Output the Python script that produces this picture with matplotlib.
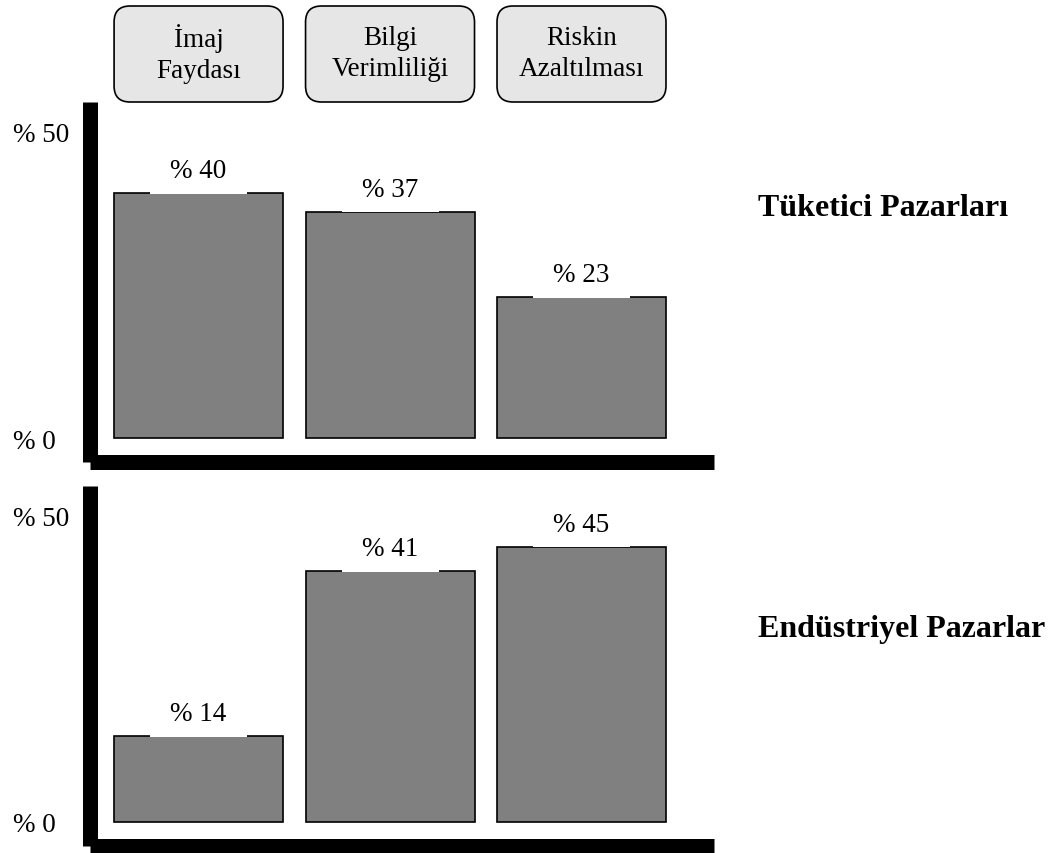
import matplotlib
matplotlib.use("Agg")
import matplotlib.pyplot as plt
from matplotlib.patches import FancyBboxPatch, Rectangle

plt.rcParams['font.family'] = ['Liberation Serif', 'DejaVu Serif']

# Data
categories = ["İmaj\nFaydası", "Bilgi\nVerimliliği", "Riskin\nAzaltılması"]
consumer = [40, 37, 23]
industrial = [14, 41, 45]
panel_titles = ["Tüketici Pazarları", "Endüstriyel Pazarlar"]
tick_values = [0, 50]
tick_labels = ["% 0", "% 50"]

# Figure geometry (pixels)
W, H = 1055, 854
fig = plt.figure(figsize=(W / 100, H / 100), dpi=100)


def px_axes(left, top, right, bottom):
    return fig.add_axes([left / W, 1 - bottom / H, (right - left) / W, (bottom - top) / H])


BAR_FACE = "#808080"
BOX_FACE = "#e6e6e6"
bar_width = 0.8825
xlim = (-0.567, 2.692)
ylim = (-3.92, 54.9)
px_per_unit = 6.12
label_gap = 22.5 / px_per_unit
gap_half = 48.5 / 191.5
FS = 19.5

panels = [
    (consumer, panel_titles[0], 103, 463, 208),
    (industrial, panel_titles[1], 487, 846.5, 630),
]

x = list(range(len(categories)))
axes = []
for values, title, top, bottom, title_y in panels:
    ax = px_axes(90, top, 714, bottom)
    axes.append(ax)
    ax.set_xlim(*xlim)
    ax.set_ylim(*ylim)
    for side in ("top", "right"):
        ax.spines[side].set_visible(False)
    for side in ("left", "bottom"):
        ax.spines[side].set_linewidth(10.8)
        ax.spines[side].set_color("black")
        ax.spines[side].set_capstyle("butt")
    ax.set_xticks([])
    ax.set_yticks(tick_values)
    ax.set_yticklabels(tick_labels, ha="left")
    ax.tick_params(axis="y", length=0, pad=55.4, labelsize=FS)

    ax.bar(x, values, width=bar_width, color=BAR_FACE, edgecolor="black",
           linewidth=1.2, zorder=2)
    for xi, v in zip(x, values):
        ax.add_patch(Rectangle((xi - gap_half, v - 0.15), 2 * gap_half, 6.0,
                               facecolor="white", edgecolor="none", zorder=3))
        ax.text(xi, v + label_gap, f"% {v}", ha="center", va="center",
                fontsize=FS, zorder=4)

    fig.text(758 / W, 1 - title_y / H, title, ha="left", va="center",
             fontsize=23, fontweight="bold")

# Category header boxes above the top panel, aligned with the bars
fig.canvas.draw()
overlay = fig.add_axes([0, 0, 1, 1])
overlay.set_xlim(0, W)
overlay.set_ylim(H, 0)
overlay.axis("off")
for xi, name in zip(x, categories):
    x0 = axes[0].transData.transform((xi - bar_width / 2, 0))[0]
    x1 = axes[0].transData.transform((xi + bar_width / 2, 0))[0]
    overlay.add_patch(FancyBboxPatch((x0, 7), x1 - x0, 96,
                                     boxstyle="round,pad=0,rounding_size=16",
                                     facecolor=BOX_FACE, edgecolor="black",
                                     linewidth=1.2))
    overlay.text((x0 + x1) / 2, 54, name, ha="center", va="center",
                 fontsize=FS, linespacing=1.35)

fig.savefig("out.png", dpi=100)
